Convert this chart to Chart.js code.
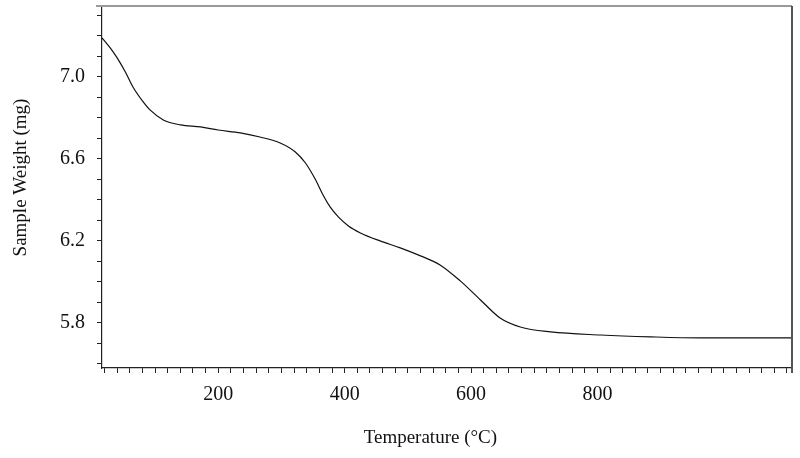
<!DOCTYPE html>
<html>
<head>
<meta charset="utf-8">
<script src="https://cdn.jsdelivr.net/npm/chart.js@4/dist/chart.umd.min.js"></script>
<style>
  html, body { margin: 0; padding: 0; background: #fff; }
  #wrap { width: 800px; height: 458px; position: relative; }
</style>
</head>
<body>
<div id="wrap"><canvas id="tga"></canvas></div>
<script>
// TGA curve
const temperature = [16, 22, 29, 40, 53, 65, 80, 92, 113, 140, 172, 200, 235, 266, 298, 322, 338, 354, 365, 377, 390, 406, 425, 456, 488, 520, 551, 583, 615, 646, 678, 726, 805, 884, 963, 1110];
const sampleWeight = [7.19, 7.168, 7.142, 7.093, 7.024, 6.951, 6.883, 6.839, 6.79, 6.766, 6.756, 6.741, 6.727, 6.707, 6.678, 6.634, 6.58, 6.498, 6.429, 6.366, 6.317, 6.273, 6.239, 6.2, 6.166, 6.127, 6.083, 6.005, 5.912, 5.824, 5.78, 5.756, 5.741, 5.732, 5.727, 5.727];

const xTickLabels = [200, 400, 600, 800];
const yTickLabels = [5.8, 6.2, 6.6, 7.0];

const serif = 'Liberation Serif, Times New Roman, serif';

const points = temperature.map((t, i) => ({ x: t, y: sampleWeight[i] }));

// minor ticks every step, labels only where listed
function stepTicks(step) {
  return (scale) => {
    const ticks = [];
    const start = Math.ceil(scale.min / step - 1e-9);
    const end = Math.floor(scale.max / step + 1e-9);
    for (let k = start; k <= end; k++) ticks.push({ value: +(k * step).toFixed(3) });
    scale.ticks = ticks;
  };
}

// grey top edge and dark right edge of the plot box
const frame = {
  id: 'frame',
  afterDraw(chart) {
    const { ctx, chartArea: a } = chart;
    ctx.save();
    ctx.lineWidth = 2;
    ctx.strokeStyle = '#9a9a9a';
    ctx.beginPath();
    ctx.moveTo(a.left - 6, a.top);
    ctx.lineTo(a.right, a.top);
    ctx.stroke();
    ctx.strokeStyle = '#555';
    ctx.beginPath();
    ctx.moveTo(a.right, a.top);
    ctx.lineTo(a.right, a.bottom + 5);
    ctx.stroke();
    ctx.restore();
  }
};

new Chart(document.getElementById('tga'), {
  type: 'line',
  data: {
    datasets: [{
      data: points,
      borderColor: '#111',
      borderWidth: 1.2,
      pointRadius: 0,
      fill: false,
      cubicInterpolationMode: 'monotone',
    }]
  },
  options: {
    responsive: true,
    maintainAspectRatio: false,
    animation: false,
    layout: { padding: { top: 6, right: 8, left: 0, bottom: 0 } },
    plugins: { legend: { display: false }, tooltip: { enabled: false } },
    scales: {
      x: {
        type: 'linear',
        position: 'bottom',
        min: 16,
        max: 1108,
        afterBuildTicks: stepTicks(20),
        afterFit: (s) => { s.height = 90; s.paddingLeft = 0; s.paddingRight = 0; },
        grid: { drawOnChartArea: false, drawTicks: true, tickLength: 5, tickColor: '#222' },
        border: { display: true, color: '#222', width: 1.2 },
        ticks: {
          autoSkip: false,
          maxRotation: 0,
          padding: 10,
          color: '#111',
          font: { family: serif, size: 20 },
          callback: (v) => xTickLabels.includes(Math.round(v)) ? String(Math.round(v)) : '',
        },
        title: {
          display: true,
          // trailing spaces nudge the title left of the axis centre, as in the original
          text: 'Temperature (°C)       ',
          color: '#111',
          font: { family: serif, size: 19 },
          padding: { bottom: 9 },
        },
      },
      y: {
        type: 'linear',
        position: 'left',
        min: 5.58,
        max: 7.346,
        afterBuildTicks: stepTicks(0.1),
        afterFit: (s) => { s.width = 102; s.paddingTop = 0; s.paddingBottom = 0; },
        grid: { drawOnChartArea: false, drawTicks: true, tickLength: 5, tickColor: '#222' },
        border: { display: true, color: '#222', width: 1.2 },
        ticks: {
          autoSkip: false,
          padding: 12,
          color: '#111',
          font: { family: serif, size: 20 },
          callback: (v) => yTickLabels.some((l) => Math.abs(l - v) < 1e-6) ? v.toFixed(1) : '',
        },
        title: {
          display: true,
          text: '    Sample Weight (mg)',
          color: '#111',
          font: { family: serif, size: 19 },
          padding: { top: 10 },
        },
      },
    },
  },
  plugins: [frame],
});
</script>
</body>
</html>
